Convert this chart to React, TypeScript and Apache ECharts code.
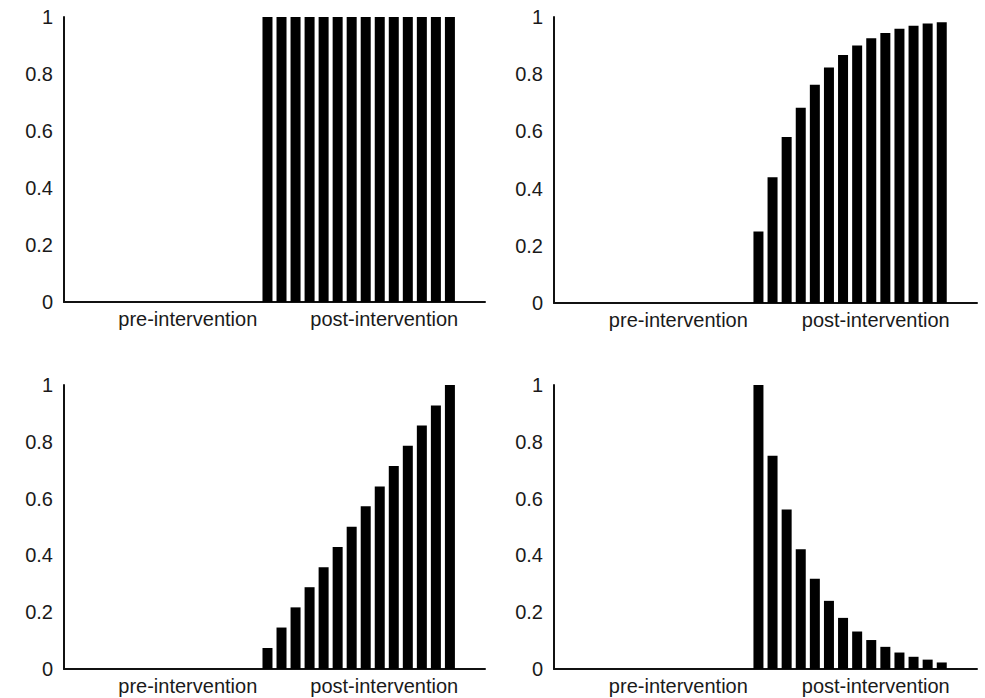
import React, { useEffect, useRef } from "react";
import * as echarts from "echarts";

const preCount = 14;
const trailingEmpty = 2;
const preLabel = "pre-intervention";
const postLabel = "post-intervention";
const preLabelIndex = 8;
const postLabelIndex = 22;

const stepValues = [1, 1, 1, 1, 1, 1, 1, 1, 1, 1, 1, 1, 1, 1];
const riseValues = [0.25, 0.44, 0.58, 0.683, 0.763, 0.823, 0.867, 0.9, 0.926, 0.944, 0.959, 0.969, 0.977, 0.982];
const linearValues = [0.074, 0.146, 0.217, 0.288, 0.358, 0.43, 0.501, 0.573, 0.643, 0.715, 0.786, 0.857, 0.928, 1];
const decayValues = [1, 0.751, 0.562, 0.422, 0.318, 0.24, 0.18, 0.132, 0.102, 0.078, 0.058, 0.043, 0.033, 0.023];
const yTicks = [0, 0.2, 0.4, 0.6, 0.8, 1];

const panels = [
  { values: stepValues, left: 64, top: 17, width: 421, height: 285 },
  { values: riseValues, left: 554, top: 17, width: 423, height: 286 },
  { values: linearValues, left: 64, top: 385, width: 421, height: 284 },
  { values: decayValues, left: 554, top: 385, width: 423, height: 284 },
];

const totalSlots = preCount * 2 + trailingEmpty;
const categories: string[] = [];
for (let i = 0; i < totalSlots; i++) {
  categories.push(i === preLabelIndex ? preLabel : i === postLabelIndex ? postLabel : "");
}

export default function App() {
  const ref = useRef<HTMLDivElement>(null);
  useEffect(() => {
    document.body.style.margin = "0";
    if (!ref.current) return;
    const chart = echarts.init(ref.current, undefined, { renderer: "svg" });
    const font = "'Liberation Sans', Arial, Helvetica, sans-serif";
    const option: any = {
      animation: false,
      backgroundColor: "#ffffff",
      grid: panels.map((p) => ({ left: p.left, top: p.top, width: p.width, height: p.height, containLabel: false })),
      xAxis: panels.map((p, i) => ({
        type: "category",
        gridIndex: i,
        data: categories,
        boundaryGap: true,
        axisLine: { show: true, lineStyle: { color: "#111", width: 2 } },
        axisTick: { show: false },
        splitLine: { show: false },
        axisLabel: {
          interval: 0,
          margin: 7,
          color: "#1a1a1a",
          fontSize: 20,
          fontFamily: font,
          padding: [0, 0, 0, 9],
        },
      })),
      yAxis: panels.map((p, i) => ({
        type: "value",
        gridIndex: i,
        min: yTicks[0],
        max: yTicks[yTicks.length - 1],
        interval: 0.2,
        axisLine: { show: true, lineStyle: { color: "#111", width: 2 } },
        axisTick: { show: false },
        splitLine: { show: false },
        axisLabel: {
          margin: 11,
          color: "#1a1a1a",
          fontSize: 20,
          fontFamily: font,
        },
      })),
      series: panels.map((p, i) => ({
        type: "bar",
        xAxisIndex: i,
        yAxisIndex: i,
        barWidth: 10,
        itemStyle: { color: "#000" },
        data: [...new Array(preCount).fill(null), ...p.values, ...new Array(trailingEmpty).fill(null)],
      })),
    };
    chart.setOption(option);
    return () => chart.dispose();
  }, []);
  return <div ref={ref} style={{ width: 985, height: 698 }} />;
}
